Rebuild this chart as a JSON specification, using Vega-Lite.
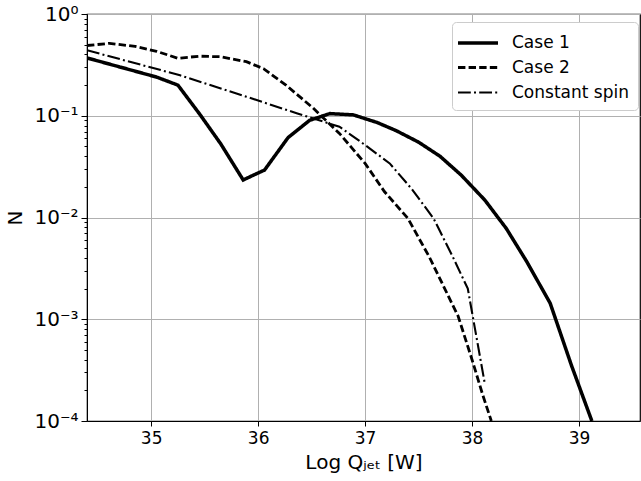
{
  "$schema": "https://vega.github.io/schema/vega-lite/v6.json",
  "width": 553,
  "height": 407,
  "autosize": "none",
  "padding": {"left": 87, "top": 14, "right": 1, "bottom": 60},
  "background": "white",
  "config": {
    "font": "DejaVu Sans",
    "view": {"stroke": "black", "strokeWidth": 1.2},
    "axis": {
      "labelFont": "DejaVu Sans",
      "titleFont": "DejaVu Sans",
      "labelFontSize": 16,
      "titleFontSize": 20,
      "titleFontWeight": "normal",
      "labelColor": "black",
      "titleColor": "black",
      "domainColor": "black",
      "tickColor": "black",
      "gridColor": "#b0b0b0",
      "gridWidth": 1
    }
  },
  "data": {
    "values": [
      {"q": 34.4, "n": 0.37, "s": "Case 1"},
      {"q": 35.05, "n": 0.24, "s": "Case 1"},
      {"q": 35.25, "n": 0.2, "s": "Case 1"},
      {"q": 35.45, "n": 0.105, "s": "Case 1"},
      {"q": 35.65, "n": 0.053, "s": "Case 1"},
      {"q": 35.86, "n": 0.0234, "s": "Case 1"},
      {"q": 36.06, "n": 0.0293, "s": "Case 1"},
      {"q": 36.28, "n": 0.061, "s": "Case 1"},
      {"q": 36.48, "n": 0.09, "s": "Case 1"},
      {"q": 36.67, "n": 0.105, "s": "Case 1"},
      {"q": 36.89, "n": 0.102, "s": "Case 1"},
      {"q": 37.11, "n": 0.086, "s": "Case 1"},
      {"q": 37.29, "n": 0.0714, "s": "Case 1"},
      {"q": 37.5, "n": 0.055, "s": "Case 1"},
      {"q": 37.7, "n": 0.04, "s": "Case 1"},
      {"q": 37.9, "n": 0.026, "s": "Case 1"},
      {"q": 38.12, "n": 0.0148, "s": "Case 1"},
      {"q": 38.32, "n": 0.0078, "s": "Case 1"},
      {"q": 38.51, "n": 0.0037, "s": "Case 1"},
      {"q": 38.73, "n": 0.00144, "s": "Case 1"},
      {"q": 38.93, "n": 0.00035, "s": "Case 1"},
      {"q": 39.12, "n": 0.0001, "s": "Case 1"},

      {"q": 34.4, "n": 0.49, "s": "Case 2"},
      {"q": 34.61, "n": 0.515, "s": "Case 2"},
      {"q": 34.85, "n": 0.48, "s": "Case 2"},
      {"q": 35.05, "n": 0.43, "s": "Case 2"},
      {"q": 35.25, "n": 0.367, "s": "Case 2"},
      {"q": 35.45, "n": 0.385, "s": "Case 2"},
      {"q": 35.65, "n": 0.38, "s": "Case 2"},
      {"q": 35.89, "n": 0.34, "s": "Case 2"},
      {"q": 36.05, "n": 0.29, "s": "Case 2"},
      {"q": 36.26, "n": 0.2, "s": "Case 2"},
      {"q": 36.51, "n": 0.12, "s": "Case 2"},
      {"q": 36.76, "n": 0.067, "s": "Case 2"},
      {"q": 37.0, "n": 0.034, "s": "Case 2"},
      {"q": 37.18, "n": 0.018, "s": "Case 2"},
      {"q": 37.4, "n": 0.0098, "s": "Case 2"},
      {"q": 37.6, "n": 0.0041, "s": "Case 2"},
      {"q": 37.87, "n": 0.00107, "s": "Case 2"},
      {"q": 38.0, "n": 0.0004, "s": "Case 2"},
      {"q": 38.1, "n": 0.00018, "s": "Case 2"},
      {"q": 38.18, "n": 0.0001, "s": "Case 2"},

      {"q": 34.4, "n": 0.44, "s": "Constant spin"},
      {"q": 35.27, "n": 0.25, "s": "Constant spin"},
      {"q": 35.89, "n": 0.154, "s": "Constant spin"},
      {"q": 36.36, "n": 0.106, "s": "Constant spin"},
      {"q": 36.76, "n": 0.078, "s": "Constant spin"},
      {"q": 37.0, "n": 0.0516, "s": "Constant spin"},
      {"q": 37.23, "n": 0.034, "s": "Constant spin"},
      {"q": 37.43, "n": 0.0194, "s": "Constant spin"},
      {"q": 37.64, "n": 0.0098, "s": "Constant spin"},
      {"q": 37.82, "n": 0.0041, "s": "Constant spin"},
      {"q": 37.96, "n": 0.002, "s": "Constant spin"},
      {"q": 38.12, "n": 0.00023, "s": "Constant spin"}
    ]
  },
  "mark": {"type": "line", "color": "black", "clip": true},
  "encoding": {
    "x": {
      "field": "q",
      "type": "quantitative",
      "scale": {"domain": [34.4, 39.57], "nice": false, "zero": false},
      "axis": {
        "title": "Log Qⱼₑₜ [W]",
        "values": [35, 36, 37, 38, 39],
        "format": "d",
        "tickSize": 5,
        "labelFontSize": 17,
        "labelPadding": 4,
        "titlePadding": 6
      }
    },
    "y": {
      "field": "n",
      "type": "quantitative",
      "scale": {"type": "log", "domain": [0.0001, 1], "nice": false},
      "axis": {
        "title": "N",
        "values": [0.0001, 0.0002, 0.0003, 0.0004, 0.0005, 0.0006, 0.0007, 0.0008, 0.0009,
                   0.001, 0.002, 0.003, 0.004, 0.005, 0.006, 0.007, 0.008, 0.009,
                   0.01, 0.02, 0.03, 0.04, 0.05, 0.06, 0.07, 0.08, 0.09,
                   0.1, 0.2, 0.3, 0.4, 0.5, 0.6, 0.7, 0.8, 0.9, 1],
        "labelExpr": "datum.value == 1 ? '10⁰' : datum.value == 0.1 ? '10⁻¹' : datum.value == 0.01 ? '10⁻²' : datum.value == 0.001 ? '10⁻³' : datum.value == 0.0001 ? '10⁻⁴' : ''",
        "tickSize": {"condition": {"test": "abs(log(datum.value)/LN10 - round(log(datum.value)/LN10)) < 0.000001", "value": 6}, "value": 3},
        "gridOpacity": {"condition": {"test": "abs(log(datum.value)/LN10 - round(log(datum.value)/LN10)) < 0.000001", "value": 1}, "value": 0},
        "labelFontSize": 20,
        "labelPadding": 3,
        "titlePadding": 8
      }
    },
    "strokeDash": {
      "field": "s",
      "type": "nominal",
      "scale": {"domain": ["Case 1", "Case 2", "Constant spin"], "range": [[1, 0], [7.4, 3.2], [12.8, 3.2, 2, 3.2]]},
      "legend": {
        "title": null,
        "orient": "none",
        "legendX": 365,
        "legendY": 8,
        "symbolType": "M-2,0H2",
        "symbolSize": 400,
        "symbolStrokeColor": "black",
        "symbolOffset": 5,
        "labelFontSize": 17,
        "labelColor": "black",
        "labelFont": "DejaVu Sans",
        "labelOffset": 22,
        "rowPadding": 5,
        "padding": 9,
        "strokeColor": "#cccccc",
        "fillColor": "white",
        "cornerRadius": 4
      }
    },
    "strokeWidth": {
      "field": "s",
      "type": "nominal",
      "scale": {"domain": ["Case 1", "Case 2", "Constant spin"], "range": [3.5, 2.1, 2.2]}
    }
  }
}
